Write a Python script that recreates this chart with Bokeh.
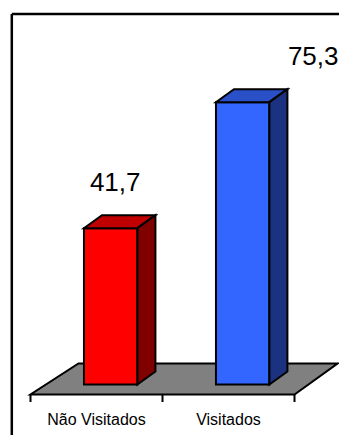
from bokeh.plotting import figure
from bokeh.models import Range1d, ColumnDataSource
from bokeh.core.properties import value
from bokeh.embed import file_html
from bokeh.resources import INLINE

# ---- data ----
categories = ["Não Visitados", "Visitados"]
values = [41.7, 75.3]
value_labels = ["41,7", "75,3"]

# ---- styles ----
front_colors = ["#FF0000", "#3366FF"]
top_colors = ["#C00000", "#2A50C8"]
side_colors = ["#800000", "#1A3280"]
label_dx = [-0.05, 0.45]

# scale helpers (pixel geometry of the layout)
SX = 132.0   # px per category unit
SY = 3.75    # px per value unit
X0, Y0_PX = 96.0, 384.0
W, H = 339, 435

x_range = Range1d(-X0 / SX, (W - X0) / SX)
y_range = Range1d(-(H - Y0_PX) / SY, Y0_PX / SY)

p = figure(width=W, height=H, x_range=x_range, y_range=y_range,
           min_border=0, toolbar_location=None, output_backend="svg")
p.axis.visible = False
p.grid.visible = False
p.outline_line_color = None
p.background_fill_color = "white"

n = len(categories)
bl, br = -0.095, 0.31          # bar front face edges relative to category
ddx, ddy = 18 / SX, 13 / SY     # bar depth

# frame
xL = (11.3 - X0) / SX
yT = (Y0_PX - 13.5) / SY
p.segment(x0=[xL, xL], y0=[y_range.start - 1, yT], x1=[xL, x_range.end + 1], y1=[yT, yT],
          line_color="black", line_width=2.5)

# floor
fy_front = (Y0_PX - 394) / SY
fy_back = (Y0_PX - 363) / SY
p.patch(x=[-0.5, n - 0.5, n - 0.5 + 43 / SX, -0.5 + 48 / SX],
        y=[fy_front, fy_front, fy_back, fy_back],
        fill_color="#808080", line_color="black", line_width=2, line_join="miter")

# ticks
tick_x = [i - 0.5 for i in range(n + 1)]
tick_bottom = (Y0_PX - 401.5) / SY
p.segment(x0=tick_x, y0=[fy_front] * len(tick_x), x1=tick_x, y1=[tick_bottom] * len(tick_x),
          line_color="black", line_width=2)

# bars
for i, v in enumerate(values):
    l, r = i + bl, i + br
    # front
    p.quad(left=l, right=r, bottom=0, top=v, fill_color=front_colors[i],
           line_color="black", line_width=2, line_join="miter")
    # top
    p.patch(x=[l, r, r + ddx, l + ddx], y=[v, v, v + ddy, v + ddy],
            fill_color=top_colors[i], line_color="black", line_width=2, line_join="miter")
    # side
    p.patch(x=[r, r + ddx, r + ddx, r], y=[0, ddy, v + ddy, v],
            fill_color=side_colors[i], line_color="black", line_width=2, line_join="miter")

# value labels
src = ColumnDataSource(dict(x=[i + label_dx[i] for i in range(n)],
                            y=[v + 12.2 for v in values], t=value_labels))
p.text(x="x", y="y", text="t", source=src, text_font=value("Liberation Sans"),
       text_font_size="26px", text_align="left", text_baseline="alphabetic",
       text_color="black")

# category labels
csrc = ColumnDataSource(dict(x=list(range(n)), y=[(Y0_PX - 419) / SY] * n, t=categories))
p.text(x="x", y="y", text="t", source=csrc, text_font=value("Liberation Sans"),
       text_font_size="16px", text_align="center", text_baseline="alphabetic",
       text_color="black")

open("out.html", "w").write(file_html(p, INLINE))
